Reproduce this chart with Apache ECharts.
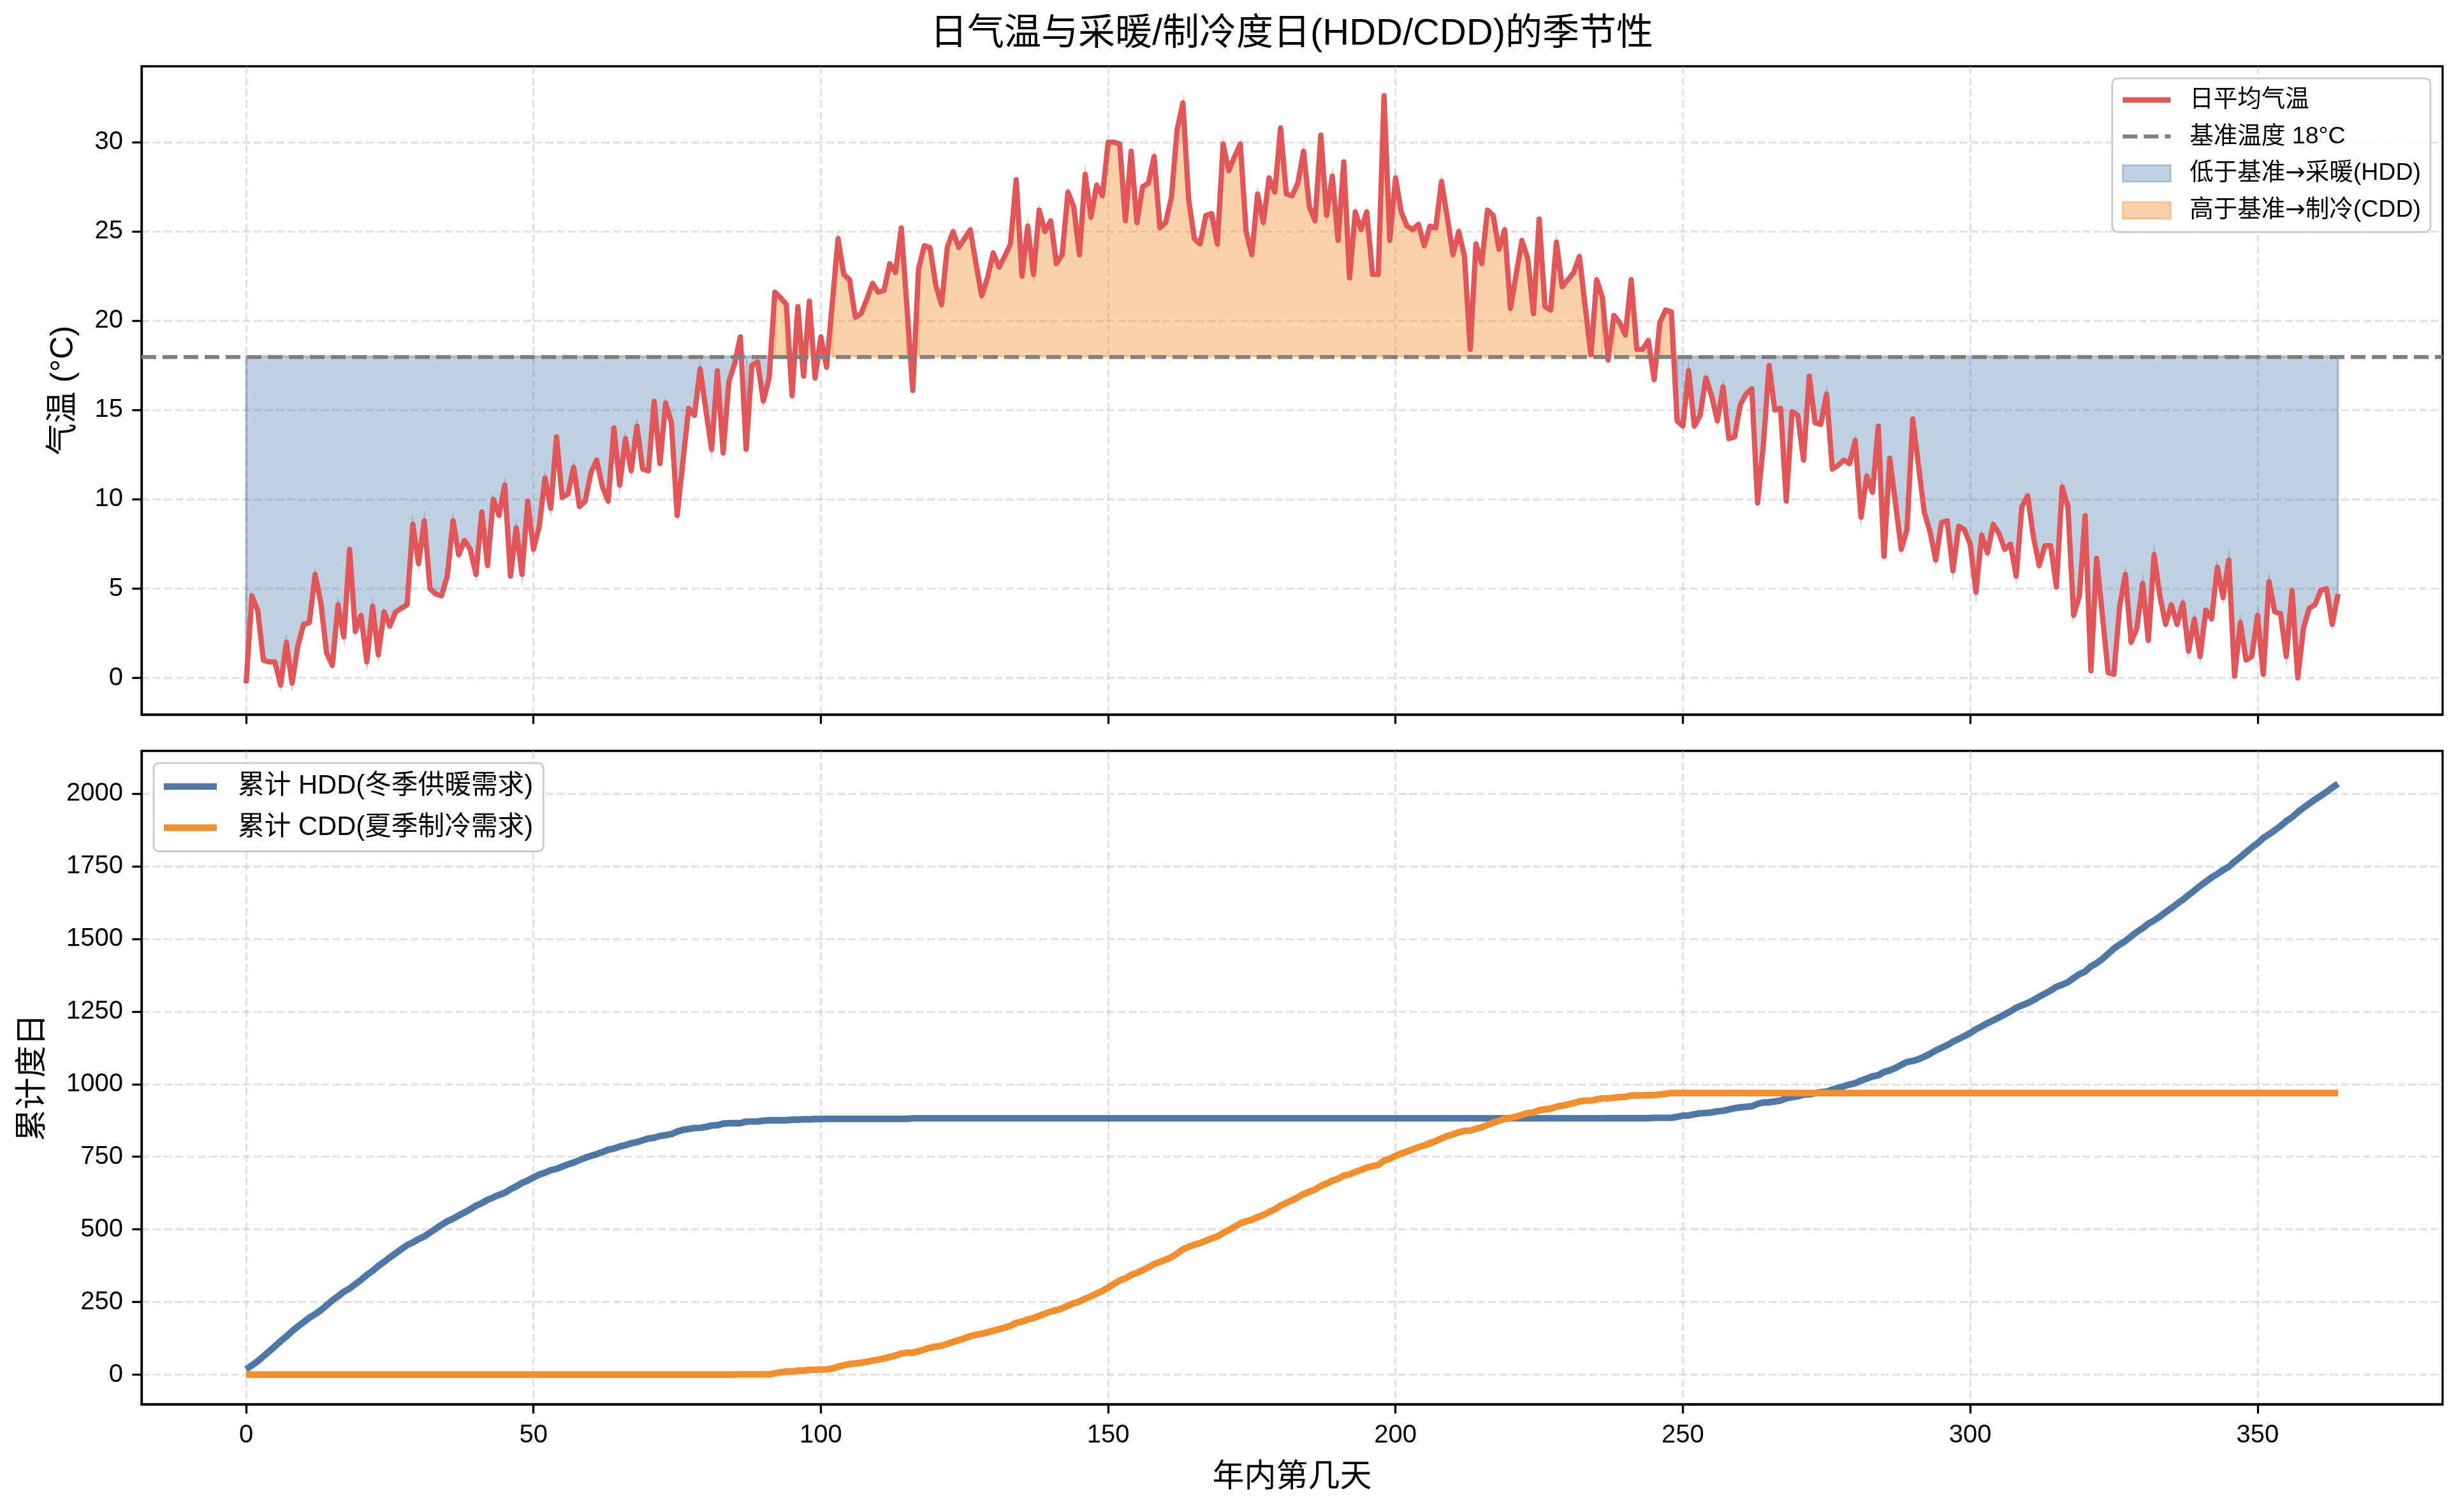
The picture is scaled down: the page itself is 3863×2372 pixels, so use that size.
<!DOCTYPE html>
<html>
<head>
<meta charset="utf-8">
<script src="https://cdn.jsdelivr.net/npm/echarts@6.0.0/dist/echarts.min.js"></script>
<style>
  html, body { margin: 0; padding: 0; background: #fff; }
  #chart { width: 3863px; height: 2372px; }
</style>
</head>
<body>
<div id="chart"></div>
<script>
const FONT = "'Liberation Sans', 'Noto Sans CJK SC', sans-serif"
const BASE = 18
const TITLE = '日气温与采暖/制冷度日(HDD/CDD)的季节性'
const TEMP_NAME = '日平均气温'
const BASE_NAME = '基准温度 18°C'
const HDD_NAME = '低于基准→采暖(HDD)'
const CDD_NAME = '高于基准→制冷(CDD)'
const CUM_HDD_NAME = '累计 HDD(冬季供暖需求)'
const CUM_CDD_NAME = '累计 CDD(夏季制冷需求)'

const X_TICKS = [0, 50, 100, 150, 200, 250, 300, 350]
const TEMP_TICKS = [0, 5, 10, 15, 20, 25, 30]
const DD_TICKS = [0, 250, 500, 750, 1000, 1250, 1500, 1750, 2000]

// daily mean temperature, day 0 .. 364
const temps = [
  -0.3, 4.6, 3.8, 1.0, 0.9, 0.9, -0.4, 2.0, -0.3, 1.8,
  3.0, 3.1, 5.8, 4.2, 1.4, 0.7, 4.1, 2.3, 7.2, 2.6,
  3.5, 0.9, 4.0, 1.3, 3.7, 2.9, 3.7, 3.9, 4.1, 8.6,
  6.4, 8.8, 5.0, 4.7, 4.6, 5.7, 8.8, 6.9, 7.7, 7.2,
  5.8, 9.3, 6.3, 10.0, 9.1, 10.8, 5.7, 8.4, 5.8, 9.9,
  7.2, 8.5, 11.2, 9.5, 13.5, 10.1, 10.3, 11.8, 9.6, 9.9,
  11.5, 12.2, 10.7, 9.9, 14.0, 10.8, 13.4, 11.6, 14.1, 11.7,
  11.6, 15.5, 12.0, 15.4, 14.3, 9.1, 12.1, 15.1, 14.7, 17.3,
  15.0, 12.8, 17.2, 12.6, 16.6, 17.6, 19.1, 12.8, 17.5, 17.7,
  15.5, 16.8, 21.6, 21.3, 20.9, 15.8, 20.8, 16.9, 21.1, 16.8,
  19.1, 17.4, 21.0, 24.6, 22.6, 22.3, 20.2, 20.4, 21.2, 22.1,
  21.6, 21.7, 23.2, 22.7, 25.2, 20.7, 16.1, 22.9, 24.2, 24.1,
  22.0, 20.9, 24.1, 25.0, 24.1, 24.6, 25.1, 23.2, 21.4, 22.4,
  23.8, 23.0, 23.6, 24.3, 27.9, 22.5, 25.3, 22.6, 26.2, 25.0,
  25.6, 23.2, 23.7, 27.2, 26.4, 23.7, 28.2, 25.8, 27.6, 27.0,
  30.0, 30.0, 29.9, 25.6, 29.5, 25.5, 27.5, 27.7, 29.2, 25.2,
  25.5, 26.9, 30.7, 32.2, 26.8, 24.6, 24.3, 25.9, 26.0, 24.3,
  29.9, 28.4, 29.2, 29.9, 25.0, 23.7, 27.1, 25.5, 28.0, 27.2,
  30.8, 27.1, 27.0, 27.7, 29.5, 26.4, 25.6, 30.4, 25.9, 28.1,
  24.5, 28.9, 22.4, 26.1, 25.1, 26.1, 22.6, 22.6, 32.6, 24.5,
  28.0, 26.1, 25.3, 25.1, 25.4, 24.2, 25.3, 25.2, 27.8, 25.8,
  23.7, 25.0, 23.6, 18.4, 24.3, 23.2, 26.2, 25.9, 24.0, 25.1,
  20.7, 22.6, 24.5, 23.5, 20.4, 25.7, 20.8, 20.6, 24.4, 21.9,
  22.3, 22.7, 23.6, 20.8, 18.1, 22.3, 21.3, 17.8, 20.3, 19.9,
  19.2, 22.3, 18.4, 18.4, 18.9, 16.7, 19.9, 20.6, 20.5, 14.4,
  14.1, 17.2, 14.1, 14.7, 16.8, 15.8, 14.4, 16.3, 13.4, 13.5,
  15.3, 15.9, 16.2, 9.8, 13.0, 17.5, 15.0, 15.1, 9.9, 14.9,
  14.7, 12.2, 16.9, 14.3, 14.2, 15.9, 11.7, 11.9, 12.2, 12.0,
  13.3, 9.0, 11.3, 10.4, 14.1, 6.8, 12.3, 9.8, 7.2, 8.3,
  14.5, 11.9, 9.3, 8.2, 6.6, 8.7, 8.8, 6.0, 8.5, 8.3,
  7.5, 4.8, 8.0, 7.0, 8.6, 8.1, 7.2, 7.5, 5.7, 9.6,
  10.2, 7.9, 6.3, 7.4, 7.4, 5.1, 10.7, 9.6, 3.5, 4.6,
  9.1, 0.4, 6.7, 3.5, 0.3, 0.2, 4.0, 5.8, 2.0, 2.8,
  5.3, 2.1, 6.9, 4.6, 3.0, 4.1, 3.0, 4.2, 1.5, 3.3,
  1.2, 3.8, 3.3, 6.2, 4.5, 6.6, 0.1, 3.1, 1.0, 1.2,
  3.5, 0.2, 5.4, 3.7, 3.6, 1.2, 4.9, 0.0, 2.8, 3.9,
  4.1, 4.9, 5.0, 3.0, 4.7
]

// colours
const RED = '#e15759'
const BLUE = '#4e79a7'
const ORANGE = '#f28e2b'
const GRAY = '#808080'
const HDD_FILL = 'rgba(78,121,167,0.35)'
const CDD_FILL = 'rgba(242,142,43,0.4)'

/* derived series: running sums of degree days */
let hAcc = 0
let cAcc = 0
const cumHdd = temps.map(t => (hAcc += Math.max(0, BASE - t)))
const cumCdd = temps.map(t => (cAcc += Math.max(0, t - BASE)))

// contiguous runs of days where test(t) holds (like fill_between where=)
function runs (test) {
  const out = []
  let s = -1
  temps.forEach((t, i) => {
    if (test(t)) { if (s < 0) s = i }
    else if (s >= 0) { out.push([s, i - 1, BASE]); s = -1 }
  })
  if (s >= 0) out.push([s, temps.length - 1, BASE])
  return out
}

// axis extents with matplotlib's 5% margins
const n = temps.length
const xPad = 0.05 * (n - 1)
const X_MIN = -xPad
const X_MAX = n - 1 + xPad
const tLo = Math.min(...temps)
const tHi = Math.max(...temps)
const T_MIN = tLo - 0.05 * (tHi - tLo)
const T_MAX = tHi + 0.05 * (tHi - tLo)
// lower panel range
const DD_MIN = -102
const DD_MAX = 2147

// legend handle: a horizontal band (optionally dashed) inside a w x h box
function bandIcon (w, h, lw, dash) {
  const y0 = (h - lw) / 2
  let d = `M0 0h0.01v0.01h-0.01z M${w} ${h}h-0.01v-0.01h0.01z`
  if (!dash) {
    d += ` M0 ${y0}h${w}v${lw}h-${w}z`
  } else {
    let x = 0
    while (x < w) {
      const len = Math.min(dash[0], w - x)
      d += ` M${x} ${y0}h${len}v${lw}h-${len}z`
      x += dash[0] + dash[1]
    }
  }
  return 'path://' + d
}

const black = { color: '#000', width: 3.3 }
const gridLine = { show: true, lineStyle: { color: 'rgba(176,176,176,0.35)', width: 3.3, type: [12.3, 5.3] } }
const tickLabel = { color: '#000', fontSize: 40, fontFamily: FONT, margin: 29, formatter: v => String(v) }
const axisName = { color: '#000', fontSize: 50, fontFamily: FONT }

function xAxis (gridIndex, withLabels) {
  return {
    gridIndex,
    type: 'value',
    min: X_MIN,
    max: X_MAX,
    axisLine: { show: true, onZero: false, lineStyle: black },
    axisTick: { show: true, customValues: X_TICKS, length: 14.6, lineStyle: black },
    axisLabel: Object.assign({ show: withLabels, customValues: X_TICKS }, tickLabel),
    splitLine: gridLine,
    name: withLabels ? '年内第几天' : '',
    nameLocation: 'middle',
    nameGap: 90,
    nameTextStyle: axisName
  }
}

function yAxis (gridIndex, min, max, ticks, name, gap) {
  return {
    gridIndex,
    type: 'value',
    min,
    max,
    axisLine: { show: true, onZero: false, lineStyle: black },
    axisTick: { show: true, customValues: ticks, length: 14.6, lineStyle: black },
    axisLabel: Object.assign({ customValues: ticks }, tickLabel),
    splitLine: gridLine,
    name,
    nameLocation: 'middle',
    nameGap: gap,
    nameTextStyle: axisName
  }
}

function fillSeries (name, data, fill) {
  return {
    type: 'custom',
    name,
    xAxisIndex: 0,
    yAxisIndex: 0,
    z: 1,
    silent: true,
    data,
    encode: { x: [0, 1], y: 2 },
    renderItem (params, api) {
      const s = api.value(0)
      const e = api.value(1)
      const pts = []
      for (let i = s; i <= e; i++) pts.push(api.coord([i, temps[i]]))
      pts.push(api.coord([e, BASE]))
      pts.push(api.coord([s, BASE]))
      return {
        type: 'polygon',
        shape: { points: pts },
        style: { fill, stroke: fill, lineWidth: 4 }
      }
    }
  }
}

const chart = echarts.init(document.getElementById('chart'), null, {
  renderer: 'canvas', width: 3863, height: 2372
})

const option = {
  animation: false,
  backgroundColor: '#fff',
  graphic: [{
    type: 'text',
    x: 2026,
    y: 54,
    style: {
      text: TITLE, fill: '#000', fontSize: 58, fontFamily: FONT,
      align: 'center', verticalAlign: 'middle'
    }
  }],
  grid: [
    { left: 222, top: 104, width: 3609, height: 1017, show: true, borderColor: '#000', borderWidth: 3.3, backgroundColor: 'transparent' },
    { left: 222, top: 1178, width: 3609, height: 1025, show: true, borderColor: '#000', borderWidth: 3.3, backgroundColor: 'transparent' }
  ],
  xAxis: [xAxis(0, false), xAxis(1, true)],
  yAxis: [
    yAxis(0, T_MIN, T_MAX, TEMP_TICKS, '气温 (°C)', 97),
    yAxis(1, DD_MIN, DD_MAX, DD_TICKS, '累计度日', 145)
  ],
  legend: [
    {
      orient: 'vertical',
      right: 51,
      top: 123,
      padding: [15, 15, 15, 15],
      itemWidth: 75,
      itemHeight: 26,
      itemGap: 20,
      selectedMode: false,
      backgroundColor: 'rgba(255,255,255,0.8)',
      borderColor: '#cccccc',
      borderWidth: 3,
      borderRadius: 8,
      // arrow drawn in DejaVu Sans so it sits at full size
      formatter: name => name.replace('→', '{a|→}'),
      textStyle: {
        color: '#000', fontSize: 37.5, fontFamily: FONT, padding: [0, 0, 0, 25],
        rich: { a: { fontFamily: 'DejaVu Sans', fontSize: 37.5, color: '#000' } }
      },
      data: [
        { name: TEMP_NAME, icon: bandIcon(75, 26, 8.3), itemStyle: { color: RED, borderWidth: 0 } },
        { name: BASE_NAME, icon: bandIcon(75, 26, 6.25, [23, 10]), itemStyle: { color: GRAY, borderWidth: 0 } },
        { name: HDD_NAME, icon: 'rect', itemStyle: { color: HDD_FILL, borderColor: HDD_FILL, borderWidth: 3 } },
        { name: CDD_NAME, icon: 'rect', itemStyle: { color: CDD_FILL, borderColor: CDD_FILL, borderWidth: 3 } }
      ]
    },
    {
      orient: 'vertical',
      left: 241,
      top: 1197,
      padding: [16, 16, 16, 16],
      itemWidth: 83,
      itemHeight: 29,
      itemGap: 23,
      selectedMode: false,
      backgroundColor: 'rgba(255,255,255,0.8)',
      borderColor: '#cccccc',
      borderWidth: 3,
      borderRadius: 8,
      textStyle: { color: '#000', fontSize: 41.7, fontFamily: FONT, padding: [0, 0, 0, 28] },
      data: [
        { name: CUM_HDD_NAME, icon: bandIcon(83, 29, 10.4), itemStyle: { color: BLUE, borderWidth: 0 } },
        { name: CUM_CDD_NAME, icon: bandIcon(83, 29, 10.4), itemStyle: { color: ORANGE, borderWidth: 0 } }
      ]
    }
  ],
  series: [
    fillSeries(HDD_NAME, runs(t => t < BASE), HDD_FILL),
    fillSeries(CDD_NAME, runs(t => t > BASE), CDD_FILL),
    {
      type: 'line',
      name: BASE_NAME,
      xAxisIndex: 0,
      yAxisIndex: 0,
      data: [],
      z: 2,
      markLine: {
        silent: true,
        symbol: ['none', 'none'],
        label: { show: false },
        lineStyle: { color: GRAY, width: 6.25, type: [23, 10] },
        data: [{ yAxis: BASE }]
      }
    },
    {
      type: 'line',
      name: TEMP_NAME,
      xAxisIndex: 0,
      yAxisIndex: 0,
      z: 3,
      silent: true,
      symbol: 'none',
      lineStyle: { color: RED, width: 8.3, join: 'round' },
      itemStyle: { color: RED },
      data: temps.map((t, i) => [i, t])
    },
    {
      type: 'line',
      name: CUM_HDD_NAME,
      xAxisIndex: 1,
      yAxisIndex: 1,
      silent: true,
      symbol: 'none',
      lineStyle: { color: BLUE, width: 10.4, join: 'round' },
      itemStyle: { color: BLUE },
      data: cumHdd.map((v, i) => [i, v])
    },
    {
      type: 'line',
      name: CUM_CDD_NAME,
      xAxisIndex: 1,
      yAxisIndex: 1,
      silent: true,
      symbol: 'none',
      lineStyle: { color: ORANGE, width: 10.4, join: 'round' },
      itemStyle: { color: ORANGE },
      data: cumCdd.map((v, i) => [i, v])
    }
  ]
}

chart.setOption(option)
</script>
</body>
</html>
